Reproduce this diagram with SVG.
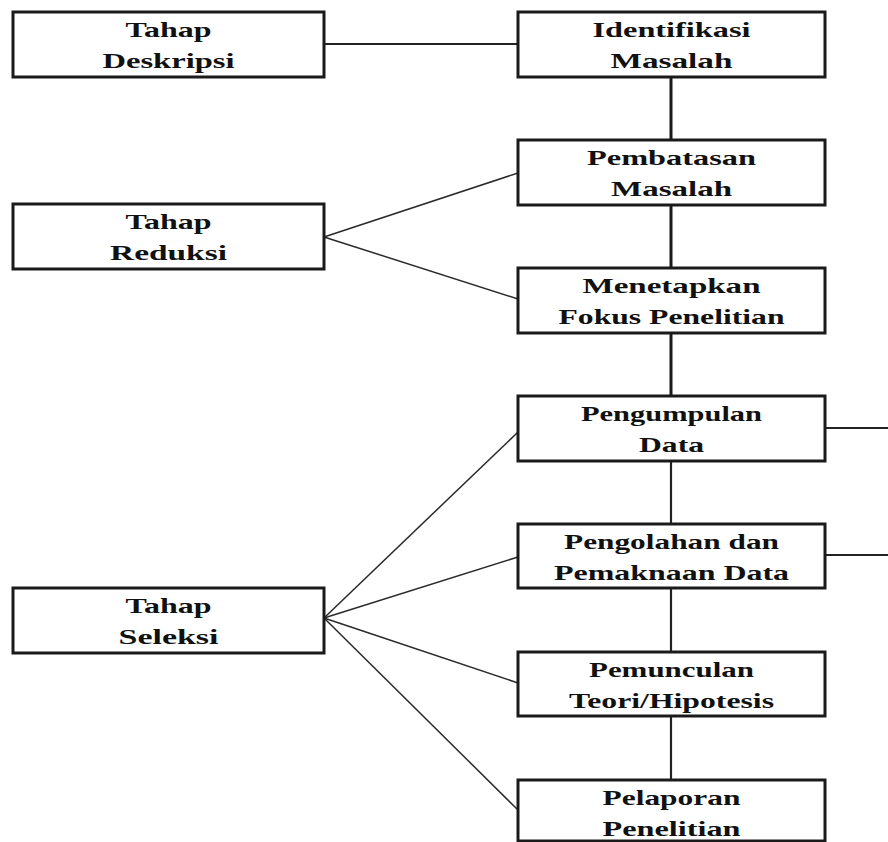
<svg xmlns="http://www.w3.org/2000/svg" width="888" height="842" viewBox="0 0 888 842">
<style>
.box{fill:#fff;stroke:#1a1a1a;stroke-width:3}
.t{font-family:"Liberation Serif","Times New Roman",serif;font-weight:bold;font-size:22px;fill:#111;text-anchor:middle}
.thick{stroke:#1a1a1a;stroke-width:3;fill:none}
.mid{stroke:#222;stroke-width:2.2;fill:none}
.thin{stroke:#2a2a2a;stroke-width:1.5;fill:none}
</style>
<rect width="888" height="842" fill="#fff"/>
<g id="connectors">
<line class="mid" x1="324" y1="44" x2="518" y2="44"/>
<line class="thick" x1="671" y1="77" x2="671" y2="140"/>
<line class="thick" x1="671" y1="205" x2="671" y2="268"/>
<line class="thick" x1="671" y1="333" x2="671" y2="396"/>
<line class="mid" x1="671" y1="461" x2="671" y2="524"/>
<line class="mid" x1="671" y1="588" x2="671" y2="652"/>
<line class="mid" x1="671" y1="716" x2="671" y2="780"/>
<line class="mid" x1="825" y1="428" x2="888" y2="428"/>
<line class="mid" x1="825" y1="555" x2="888" y2="555"/>
<line class="thin" x1="324" y1="237" x2="518" y2="173"/>
<line class="thin" x1="324" y1="237" x2="518" y2="299"/>
<line class="thin" x1="324" y1="618" x2="518" y2="432"/>
<line class="thin" x1="324" y1="618" x2="518" y2="557"/>
<line class="thin" x1="324" y1="618" x2="518" y2="683"/>
<line class="thin" x1="324" y1="618" x2="518" y2="810"/>
</g>
<g id="deskripsi">
<rect class="box" x="13" y="12" width="311" height="65"/>
<text class="t" x="168.5" y="36.5" textLength="86" lengthAdjust="spacingAndGlyphs">Tahap</text>
<text class="t" x="168.5" y="68" textLength="132" lengthAdjust="spacingAndGlyphs">Deskripsi</text>
</g>
<g id="reduksi">
<rect class="box" x="13" y="204" width="311" height="65"/>
<text class="t" x="168.5" y="228.5" textLength="86" lengthAdjust="spacingAndGlyphs">Tahap</text>
<text class="t" x="168.5" y="260" textLength="117" lengthAdjust="spacingAndGlyphs">Reduksi</text>
</g>
<g id="seleksi">
<rect class="box" x="13" y="588" width="311" height="65"/>
<text class="t" x="168.5" y="612.5" textLength="86" lengthAdjust="spacingAndGlyphs">Tahap</text>
<text class="t" x="168.5" y="644" textLength="100" lengthAdjust="spacingAndGlyphs">Seleksi</text>
</g>
<g id="identifikasi">
<rect class="box" x="518" y="12" width="307" height="65"/>
<text class="t" x="671.5" y="36.5" textLength="158" lengthAdjust="spacingAndGlyphs">Identifikasi</text>
<text class="t" x="671.5" y="68" textLength="122" lengthAdjust="spacingAndGlyphs">Masalah</text>
</g>
<g id="pembatasan">
<rect class="box" x="518" y="140" width="307" height="65"/>
<text class="t" x="671.5" y="164.5" textLength="169" lengthAdjust="spacingAndGlyphs">Pembatasan</text>
<text class="t" x="671.5" y="196" textLength="121" lengthAdjust="spacingAndGlyphs">Masalah</text>
</g>
<g id="menetapkan">
<rect class="box" x="518" y="268" width="307" height="65"/>
<text class="t" x="671.5" y="292.5" textLength="178" lengthAdjust="spacingAndGlyphs">Menetapkan</text>
<text class="t" x="671.5" y="324" textLength="226" lengthAdjust="spacingAndGlyphs">Fokus Penelitian</text>
</g>
<g id="pengumpulan">
<rect class="box" x="518" y="396" width="307" height="65"/>
<text class="t" x="671.5" y="420.5" textLength="181" lengthAdjust="spacingAndGlyphs">Pengumpulan</text>
<text class="t" x="671.5" y="452" textLength="65" lengthAdjust="spacingAndGlyphs">Data</text>
</g>
<g id="pengolahan">
<rect class="box" x="518" y="524" width="307" height="64"/>
<text class="t" x="671.5" y="548.5" textLength="215" lengthAdjust="spacingAndGlyphs">Pengolahan dan</text>
<text class="t" x="671.5" y="580" textLength="235" lengthAdjust="spacingAndGlyphs">Pemaknaan Data</text>
</g>
<g id="pemunculan">
<rect class="box" x="518" y="652" width="307" height="64"/>
<text class="t" x="671.5" y="676.5" textLength="165" lengthAdjust="spacingAndGlyphs">Pemunculan</text>
<text class="t" x="671.5" y="708" textLength="205" lengthAdjust="spacingAndGlyphs">Teori/Hipotesis</text>
</g>
<g id="pelaporan">
<rect class="box" x="518" y="780" width="307" height="61"/>
<text class="t" x="671.5" y="804.5" textLength="138" lengthAdjust="spacingAndGlyphs">Pelaporan</text>
<text class="t" x="671.5" y="836" textLength="138" lengthAdjust="spacingAndGlyphs">Penelitian</text>
</g>
</svg>
